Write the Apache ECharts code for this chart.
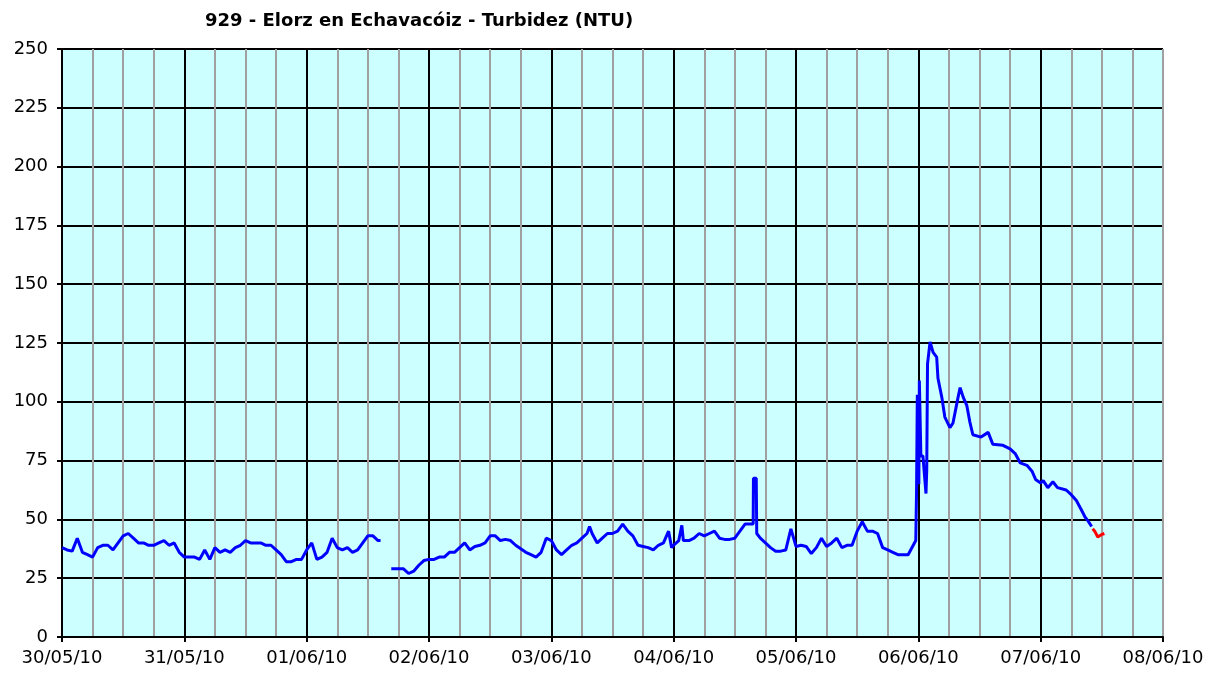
<!DOCTYPE html>
<html lang="es">
<head>
    <meta charset="UTF-8">
    <title>929 - Elorz en Echavacóiz - Turbidez (NTU)</title>
    <style>
        * {
            margin: 0;
            padding: 0;
        }

        #chart {
            width: 1221px;
            height: 679px;
            background-color: #fff;
        }
    </style>
</head>
<body>
    <div id="chart"></div>
    <script src="https://cdn.jsdelivr.net/npm/echarts@6/dist/echarts.min.js"></script>
    <script>
        // etiquetas del eje X (un tick cada 24 h desde 30/05/10 00:00)
        var dateLabels = ['30/05/10', '31/05/10', '01/06/10', '02/06/10', '03/06/10',
            '04/06/10', '05/06/10', '06/06/10', '07/06/10', '08/06/10'];
        var yTicks = [0, 25, 50, 75, 100, 125, 150, 175, 200, 225, 250];

        // valores horarios (NTU), hora 0..23 de cada dia; null = sin dato
        var d3005 = [38, 37, 36.5, 42, 36, 35, 34, 38, 39, 39, 37, 40, 43, 44, 42, 40, 40, 39, 39, 40, 41, 39, 40, 36];
        var d3105 = [34, 34, 34, 33, 37, 33, 38, 36, 37, 36, 38, 39, 41, 40, 40, 40, 39, 39, 37, 35, 32, 32, 33, 33];
        var d0106 = [37, 40, 33, 34, 36, 42, 38, 37, 38, 36, 37, 40, 43, 43, 41, null, null, 29, 29, 29, 27, 28, 30.5, 32.5];
        var d0206 = [33, 33, 34, 34, 36, 36, 38, 40, 37, 38.5, 39, 40, 43, 43, 41, 41.5, 41, 39, 37.5, 36, 35, 34, 36, 42];
        var d0306 = [41, 37, 35, 37, 39, 40, 42, 44, 44, 40, 42, 44, 44, 45, 48, 45, 43, 39, 38.5, 38, 37, 39, 40, 45];
        var d0406 = [39, 41, 41, 41, 42, 44, 43, 44, 45, 42, 41.5, 41.5, 42, 45, 48, 48, 67.5, 42, 40, 38, 36.5, 36.5, 37, 46];
        var d0506 = [38.5, 39, 38.5, 35.5, 38, 42, 38.5, 40, 42, 38, 39, 39, 45, 49, 45, 45, 44, 38, 37, 36, 35, 35, 35, 39];

        // puntos extra [hora, valor] (picos y cortes)
        var x0106 = [[14.5, 41], [16.6, 29]];
        var x0306 = [[7.5, 47], [23.6, 38]];
        var x0406 = [[1.6, 47.5], [1.9, 41], [15.6, 48], [15.65, 67.5], [16.2, 67.5], [16.3, 44]];
        var x0506 = [[23.5, 41], [23.65, 62], [23.8, 103]];

        // dias irregulares [hora, valor]
        var d0606 = [[0.1, 65], [0.2, 109], [0.5, 77], [0.9, 77], [1.5, 61], [1.65, 71], [1.8, 116],
            [2.3, 125.5], [2.9, 121], [3.6, 119], [3.85, 110], [4.6, 102], [5.2, 93.5], [6.2, 89],
            [6.8, 91], [7.8, 102], [8.2, 106], [8.8, 102], [9.5, 98.5], [10.1, 91.5], [10.7, 86],
            [12.3, 85], [13.7, 87], [14.6, 82], [16.6, 81.5], [18, 80], [19, 78], [20, 74],
            [21.3, 73], [22.3, 70.5], [23, 67]];
        var d0706 = [[0, 65.5], [0.5, 66.5], [1.4, 63.5], [2.4, 66], [3.3, 63.5], [5, 62.5],
            [6, 60.5], [7, 58], [8, 54], [8.7, 51], [9.25, 49.5], [10, 47]];
        // ultimo tramo (rojo)
        var d0706b = [[10.2, 46], [10.6, 45], [11.2, 42.5], [11.9, 43.5], [12.5, 44]];

        function buildDay(dayIndex, hourly, extras) {
            var pts = [];
            for (var i = 0; i < hourly.length; i++) {
                pts.push([i, hourly[i]]);
            }
            if (extras) {
                pts = pts.concat(extras);
            }
            pts.sort(function (a, b) { return a[0] - b[0]; });
            return pts.map(function (p) {
                return [dayIndex * 24 + p[0], p[1] === null ? '-' : p[1]];
            });
        }

        function shiftDay(dayIndex, pairs) {
            return pairs.map(function (p) { return [dayIndex * 24 + p[0], p[1]]; });
        }

        var blueData = [].concat(
            buildDay(0, d3005),
            buildDay(1, d3105),
            buildDay(2, d0106, x0106),
            buildDay(3, d0206),
            buildDay(4, d0306, x0306),
            buildDay(5, d0406, x0406),
            buildDay(6, d0506, x0506),
            shiftDay(7, d0606),
            shiftDay(8, d0706)
        );
        var redData = shiftDay(8, d0706b);

        var labelFont = {
            color: '#000',
            fontFamily: 'DejaVu Sans',
            fontSize: 18
        };

        // lineas verticales de dia negras, la ultima (borde derecho) gris
        var dayLineColors = [];
        for (var k = 0; k < dateLabels.length - 1; k++) {
            dayLineColors.push('#000');
        }
        dayLineColors.push('#a0a0a0');

        var myChart = echarts.init(document.getElementById('chart'));
        var option = {
            animation: false,
            title: {
                text: '929 - Elorz en Echavacóiz - Turbidez (NTU)',
                left: 200,
                top: 7,
                textStyle: {
                    color: '#000',
                    fontFamily: 'DejaVu Sans',
                    fontSize: 18,
                    fontWeight: 'bold'
                }
            },
            grid: {
                left: 62,
                right: 58,
                top: 49,
                bottom: 42,
                show: true,
                backgroundColor: '#ccffff',
                borderWidth: 0
            },
            xAxis: {
                type: 'value',
                min: 0,
                max: 216,
                interval: 24,
                axisLine: { lineStyle: { color: '#000', width: 2 } },
                axisTick: { show: true, length: 5, lineStyle: { color: '#000', width: 2 } },
                axisLabel: Object.assign({
                    margin: 12,
                    formatter: function (v) {
                        return dateLabels[Math.round(v / 24)] || '';
                    }
                }, labelFont),
                splitLine: { show: true, lineStyle: { color: dayLineColors, width: 2 } },
                minorTick: { show: false, splitNumber: 4 },
                minorSplitLine: { show: true, lineStyle: { color: '#a0a0a0', width: 2 } }
            },
            yAxis: {
                type: 'value',
                min: yTicks[0],
                max: yTicks[yTicks.length - 1],
                interval: 25,
                axisLine: { show: true, lineStyle: { color: '#000', width: 2 } },
                axisTick: { show: true, length: 5, lineStyle: { color: '#000', width: 2 } },
                axisLabel: Object.assign({ margin: 14 }, labelFont),
                splitLine: { show: true, lineStyle: { color: '#000', width: 2 } }
            },
            series: [
                {
                    type: 'line',
                    data: blueData,
                    showSymbol: false,
                    connectNulls: false,
                    lineStyle: { color: '#0000ff', width: 3 },
                    itemStyle: { color: '#0000ff' },
                    z: 5
                },
                {
                    type: 'line',
                    data: redData,
                    showSymbol: false,
                    lineStyle: { color: '#ff0000', width: 3 },
                    itemStyle: { color: '#ff0000' },
                    z: 5
                }
            ]
        };
        myChart.setOption(option);
    </script>
</body>
</html>
